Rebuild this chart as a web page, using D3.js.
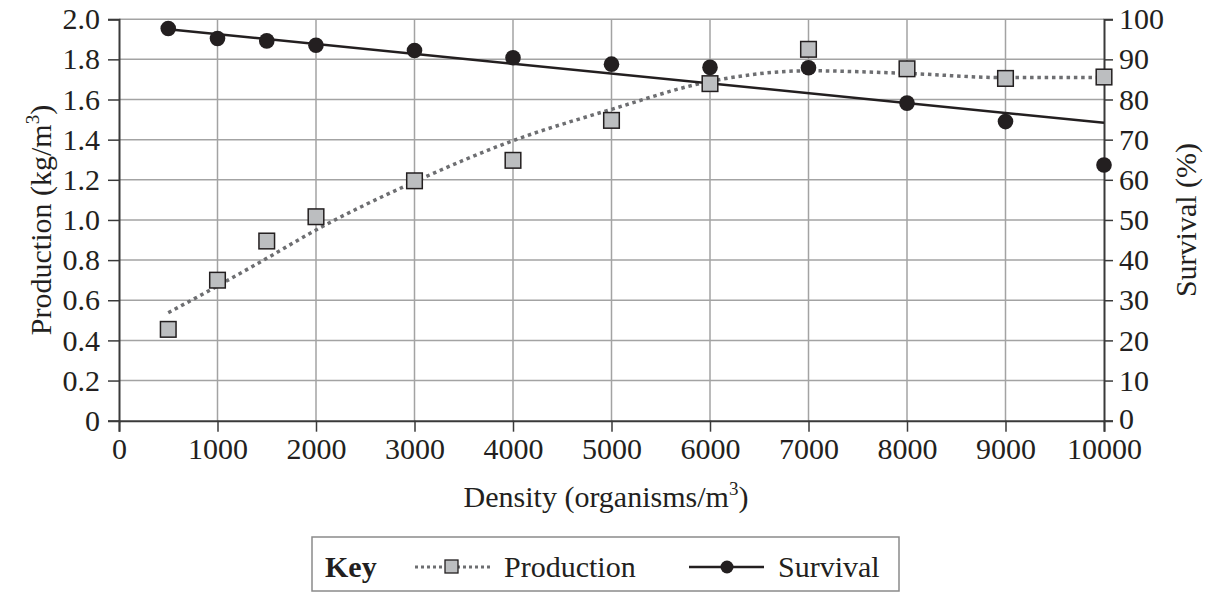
<!DOCTYPE html>
<html><head><meta charset="utf-8">
<script src="https://cdn.jsdelivr.net/npm/d3@7"></script>
<style>
html,body{margin:0;padding:0;background:#fff;}
svg text{font-family:"Liberation Serif","Times New Roman",serif;fill:#231f20;}
</style></head>
<body>
<svg id="chart" width="1206" height="592"></svg>
<script>
const density = [500,1000,1500,2000,3000,4000,5000,6000,7000,8000,9000,10000];
const production = [0.455,0.70,0.895,1.016,1.195,1.297,1.496,1.679,1.850,1.753,1.705,1.712];
const survival = [97.7,95.2,94.6,93.5,92.2,90.4,88.8,88.0,87.9,79.1,74.5,63.7];
// trend lines
const productionTrend = [0.538,0.671,0.809,0.950,1.190,1.395,1.551,1.690,1.743,1.730,1.709,1.709];
const survivalTrendX = [500,10000];
const survivalTrend = [97.5,74.2];
const xTicks = [0,1000,2000,3000,4000,5000,6000,7000,8000,9000,10000];
const yLeftTicks = [0,0.2,0.4,0.6,0.8,1.0,1.2,1.4,1.6,1.8,2.0];
const yRightTicks = [0,10,20,30,40,50,60,70,80,90,100];

const svg = d3.select("#chart");
const x = d3.scaleLinear().domain([0,10000]).range([119,1104]);
const yL = d3.scaleLinear().domain([0,2]).range([420.7,19.2]);
const yR = d3.scaleLinear().domain([0,100]).range([420.7,19.2]);

// grid
svg.append("g").selectAll("line").data(xTicks.filter(d=>d>0&&d<10000)).join("line")
  .attr("x1",d=>x(d)).attr("x2",d=>x(d)).attr("y1",yL(0)).attr("y2",yL(2))
  .attr("stroke","#a3a3a3").attr("stroke-width",1.5);
svg.append("g").selectAll("line").data(yLeftTicks.filter(d=>d>0)).join("line")
  .attr("x1",x(0)).attr("x2",x(10000)).attr("y1",d=>yL(d)).attr("y2",d=>yL(d))
  .attr("stroke","#a3a3a3").attr("stroke-width",1.5);

const fs = 30;
function styleAxis(g){
  g.selectAll(".domain").attr("stroke","#3a3a3a").attr("stroke-width",2);
  g.selectAll(".tick line").attr("stroke","#3a3a3a").attr("stroke-width",1.5);
  g.selectAll(".tick text").attr("font-size",fs).attr("fill","#231f20");
}
const gx = svg.append("g").attr("transform",`translate(0,${yL(0)})`)
  .call(d3.axisBottom(x).tickValues(xTicks).tickFormat(d3.format("d")).tickSizeOuter(0).tickSize(11).tickPadding(6));
styleAxis(gx);
const gl = svg.append("g").attr("transform",`translate(${x(0)},0)`)
  .call(d3.axisLeft(yL).tickValues(yLeftTicks).tickFormat(d=>d===0?"0":d3.format(".1f")(d)).tickSizeOuter(0).tickSize(11).tickPadding(8));
styleAxis(gl);
const gr = svg.append("g").attr("transform",`translate(${x(10000)},0)`)
  .call(d3.axisRight(yR).tickValues(yRightTicks).tickFormat(d3.format("d")).tickSizeOuter(0).tickSize(9).tickPadding(6));
styleAxis(gr);
gr.selectAll(".tick text").filter(d=>d===0).attr("dy","0.25em");

// production trend
svg.append("path").datum(density.map((d,i)=>[d,productionTrend[i]]))
  .attr("fill","none").attr("stroke","#6d6e71").attr("stroke-width",3.5)
  .attr("stroke-dasharray","3.5,3.8")
  .attr("d",d3.line().x(d=>x(d[0])).y(d=>yL(d[1])).curve(d3.curveMonotoneX));

// survival linear trend
svg.append("path").datum(survivalTrendX.map((d,i)=>[d,survivalTrend[i]]))
  .attr("fill","none").attr("stroke","#231f20").attr("stroke-width",2.5)
  .attr("d",d3.line().x(d=>x(d[0])).y(d=>yR(d[1])));

// markers
svg.append("g").selectAll("circle").data(density).join("circle")
  .attr("cx",d=>x(d)).attr("cy",(d,i)=>yR(survival[i])).attr("r",7.8).attr("fill","#231f20");
svg.append("g").selectAll("rect").data(density).join("rect")
  .attr("x",d=>x(d)-7.8).attr("y",(d,i)=>yL(production[i])-7.8).attr("width",15.6).attr("height",15.6)
  .attr("fill","#bcbec0").attr("stroke","#231f20").attr("stroke-width",1.5);

// titles
const lt = svg.append("text").attr("transform","translate(51,220) rotate(-90)").attr("text-anchor","middle").attr("font-size",fs);
lt.append("tspan").text("Production (kg/m");
lt.append("tspan").attr("font-size",19).attr("dy",-12).text("3");
lt.append("tspan").attr("dy",12).text(")");
svg.append("text").attr("transform","translate(1196,220) rotate(-90)").attr("text-anchor","middle").attr("font-size",fs).text("Survival (%)");
const xt = svg.append("text").attr("x",606).attr("y",507).attr("text-anchor","middle").attr("font-size",fs);
xt.append("tspan").text("Density (organisms/m");
xt.append("tspan").attr("font-size",19).attr("dy",-12).text("3");
xt.append("tspan").attr("dy",12).text(")");

// legend
const lg = svg.append("g");
lg.append("rect").attr("x",312).attr("y",537).attr("width",587).attr("height",54)
  .attr("fill","none").attr("stroke","#8a8a8a").attr("stroke-width",1.5);
lg.append("text").attr("x",325).attr("y",577).attr("font-size",fs).attr("font-weight","bold").text("Key");
lg.append("line").attr("x1",415).attr("x2",491).attr("y1",567).attr("y2",567)
  .attr("stroke","#6d6e71").attr("stroke-width",3).attr("stroke-dasharray","3,3");
lg.append("rect").attr("x",445).attr("y",560).attr("width",13).attr("height",13)
  .attr("fill","#bcbec0").attr("stroke","#231f20").attr("stroke-width",1.3);
lg.append("text").attr("x",504).attr("y",577).attr("font-size",fs).text("Production");
lg.append("line").attr("x1",689).attr("x2",764).attr("y1",567).attr("y2",567)
  .attr("stroke","#231f20").attr("stroke-width",2.5);
lg.append("circle").attr("cx",727).attr("cy",567).attr("r",6.5).attr("fill","#231f20");
lg.append("text").attr("x",778).attr("y",577).attr("font-size",fs).text("Survival");
</script>
</body></html>
